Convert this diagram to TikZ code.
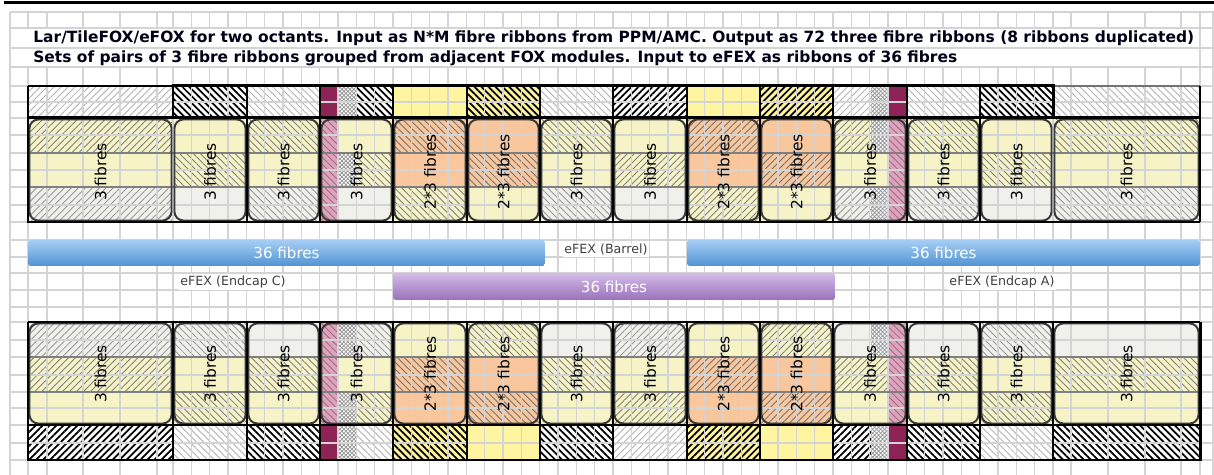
\documentclass[tikz,border=0pt]{standalone}
\usepackage{fontspec}
\setmainfont{DejaVu Sans}
\usetikzlibrary{patterns, patterns.meta}
\definecolor{cyel}{HTML}{F6F4C6}
\definecolor{cylw}{HTML}{FFF5A0}
\definecolor{corg}{HTML}{F8C79D}
\definecolor{cgry}{HTML}{F1F1EC}
\definecolor{cwine}{HTML}{8E2356}
\definecolor{cpink}{HTML}{D9A6BC}
\definecolor{cbluet}{HTML}{A6CEF5}
\definecolor{cblueb}{HTML}{5292D2}
\definecolor{cpurpt}{HTML}{D3BBE8}
\definecolor{cpurpb}{HTML}{9A72BB}
\tikzset{
  gridln/.style={draw=black!17, line width=0.8pt},
  hne/.style={postaction={pattern={Lines[angle=45,distance=2.8pt,line width=.5pt]}, pattern color=#1}},
  hnw/.style={postaction={pattern={Lines[angle=-45,distance=2.8pt,line width=.5pt]}, pattern color=#1}},
  kne/.style={postaction={pattern={Lines[angle=45,distance=2.8pt,line width=1pt]}, pattern color=black}},
  knw/.style={postaction={pattern={Lines[angle=-45,distance=2.8pt,line width=1pt]}, pattern color=black}},
  pW/.style={fill=white},
  pWne/.style={fill=white, hne=black!30},
  pWnw/.style={fill=white, hnw=black!30},
  pG/.style={fill=cgry},
  pGne/.style={fill=cgry, hne=black!40},
  pGnw/.style={fill=cgry, hnw=black!40},
  pY/.style={fill=cyel},
  pYne/.style={fill=cyel, hne=black!50},
  pYnw/.style={fill=cyel, hnw=black!50},
  pO/.style={fill=corg},
  pOne/.style={fill=corg, hne=black!55},
  pOnw/.style={fill=corg, hnw=black!55},
  pS/.style={fill=cylw},
  pSne/.style={fill=cylw, kne},
  pSnw/.style={fill=cylw, knw},
  pKne/.style={fill=white, kne},
  pKnw/.style={fill=white, knw},
  pChk/.style={fill=white, postaction={pattern={Hatch[angle=45,distance=1.6pt,line width=.45pt]}, pattern color=black!40}},
  pPink/.style={fill=cpink, hnw=cwine!70},
  bandsep/.style={draw=black!50, line width=1.4pt},
  modbox/.style={draw=black!78, line width=1.1pt, rounded corners=5pt},
  blkframe/.style={draw=black, line width=1.7pt},
  pairsep/.style={draw=black, line width=1.3pt},
  modsep/.style={draw=black, line width=0.7pt},
  ttl/.style={anchor=base west, inner sep=0pt, text=black!90!blue, font=\fontsize{8.8}{10}\selectfont\bfseries},
  fibtxt/.style={rotate=90, inner sep=0pt, font=\fontsize{8.8}{10}\selectfont},
  efexlbl/.style={fill=white, inner sep=1pt, text=black!75, font=\fontsize{7.2}{9}\selectfont},
  fibbar/.style={rounded corners=1.5pt, inner sep=0pt, text=white, font=\fontsize{8.6}{10}\selectfont, minimum height=0.52cm},
  bluebar/.style={fibbar, top color=cbluet, bottom color=cblueb},
  purplebar/.style={fibbar, top color=cpurpt, bottom color=cpurpb, minimum height=0.54cm},
}
\begin{document}
\begin{tikzpicture}[x=0.02cm, y=-0.02cm]
  \useasboundingbox (0,0) rectangle (1214,475);
  \draw[line width=1.7pt] (4,3) -- (1214,3);
  % top block: strip and three bands per module
  \foreach \xa/\xb/\s/\ba/\bb/\bc in {
    28/173/pWne/pYne/pY/pGne, 173/247/pKnw/pY/pYnw/pG, 247/320/pWnw/pYnw/pY/pGnw,
    320/393/pKnw/pY/pYnw/pG, 393/467/pS/pOnw/pO/pYnw, 467/540/pSnw/pO/pOnw/pY,
    540/613/pWnw/pYnw/pY/pGnw, 613/687/pKne/pY/pYne/pG, 687/760/pS/pOne/pO/pYne,
    760/833/pSne/pO/pOne/pY, 833/907/pWne/pYne/pY/pGne, 907/980/pWnw/pYnw/pY/pGnw,
    980/1053/pKnw/pY/pYnw/pG, 1053/1200/pWnw/pYnw/pY/pGnw}{
    \path[\s] (\xa,86) rectangle (\xb,118);
    \path[\ba] (\xa,118) rectangle (\xb,153);
    \path[\bb] (\xa,153) rectangle (\xb,187);
    \path[\bc] (\xa,187) rectangle (\xb,222);
  }
  % bottom block: three bands and strip per module
  \foreach \xa/\xb/\ba/\bb/\bc/\s in {
    28/173/pGne/pYne/pY/pKne, 173/247/pGnw/pY/pYnw/pWnw, 247/320/pG/pYnw/pY/pKnw,
    320/393/pGnw/pY/pYnw/pWnw, 393/467/pY/pOnw/pO/pSnw, 467/540/pYnw/pO/pOnw/pS,
    540/613/pG/pYnw/pY/pKnw, 613/687/pGne/pY/pYne/pWne, 687/760/pY/pOne/pO/pSne,
    760/833/pYne/pO/pOne/pS, 833/907/pG/pYne/pY/pKne, 907/980/pG/pYnw/pY/pKnw,
    980/1053/pGnw/pY/pYnw/pWnw, 1053/1200/pG/pYnw/pY/pKnw}{
    \path[\ba] (\xa,322) rectangle (\xb,357);
    \path[\bb] (\xa,357) rectangle (\xb,392);
    \path[\bc] (\xa,392) rectangle (\xb,425);
    \path[\s] (\xa,425) rectangle (\xb,460);
  }
  % duplicated ribbons
  \path[pChk] (338,86) rectangle (356,118);
  \path[pChk] (338,153) rectangle (356,187);
  \path[pChk] (871,86) rectangle (889,118);
  \path[pChk] (871,118) rectangle (889,153);
  \path[pChk] (871,187) rectangle (889,222);
  \path[pChk] (338,322) rectangle (356,357);
  \path[pChk] (338,392) rectangle (356,460);
  \path[pChk] (871,322) rectangle (889,357);
  \path[pChk] (871,425) rectangle (889,460);
  \fill[cwine] (320,86) rectangle (338,118);
  \fill[cwine] (889,86) rectangle (907,118);
  \fill[cwine] (320,425) rectangle (338,460);
  \fill[cwine] (889,425) rectangle (907,460);
  \path[pPink] (320,118) rectangle (338,222);
  \path[pPink] (889,118) rectangle (907,222);
  \path[pPink] (320,322) rectangle (338,425);
  \path[pPink] (889,322) rectangle (907,425);
  % sheet grid
  \foreach \y in {12,28,48,67,86,102,118,135,153,170,187,205,222,240,257,273,290,307,322,340,357,375,392,408,425,443,460}
    \draw[gridln] (10,\y) -- (1214,\y);
  \foreach \x in {10,28,47,83,120,157,1071,1108,1145,1181,1200,1213}
    \draw[gridln] (\x,12) -- (\x,475);
  \foreach \k in {0,...,48}
    \draw[gridln] ({173+\k*18.333},12) -- ({173+\k*18.333},475);
  \fill[white] (11,28.6) rectangle (1199.4,66.4);
  \draw[gridln] (10,48) -- (1200,48);
  \node[ttl] (title1) at (33,43) {Lar/TileFOX/eFOX for two octants. Input as N*M fibre ribbons from PPM/AMC. Output as 72 three fibre ribbons (8 ribbons duplicated)};
  \node[ttl] (title2) at (33,63) {Sets of pairs of 3 fibre ribbons grouped from adjacent FOX modules. Input to eFEX as ribbons of 36 fibres};
  % band lines and frames
  \foreach \y in {153,187,357,392}
    \draw[bandsep] (28,\y) -- (1200,\y);
  \foreach \xa/\xb/\lbl [count=\i] in {
    28/173/3 fibres, 173/247/3 fibres, 247/320/3 fibres, 320/393/3 fibres,
    393/467/2*3 fibres, 467/540/2*3 fibres, 540/613/3 fibres, 613/687/3 fibres,
    687/760/2*3 fibres, 760/833/2*3 fibres, 833/907/3 fibres, 907/980/3 fibres,
    980/1053/3 fibres, 1053/1200/3 fibres}{
    \draw[modbox] (\xa+1.5,119.5) rectangle (\xb-1.5,220.5);
    \draw[modbox] (\xa+1.5,323.5) rectangle (\xb-1.5,423.5);
    \node[fibtxt] (top\i) at ({(\xa+\xb)/2},172) {\lbl};
    \node[fibtxt] (bot\i) at ({(\xa+\xb)/2},374) {\lbl};
  }
  \foreach \x in {247,393,540,687,833,980} {
    \draw[modsep] (\x,86) -- (\x,222);
    \draw[modsep] (\x,322) -- (\x,460);
  }
  \foreach \x in {320,467,613,760,907} {
    \draw[pairsep] (\x,86) -- (\x,222);
    \draw[pairsep] (\x,322) -- (\x,460);
  }
  \draw[modsep] (28,86) -- (173,86);
  \draw[modsep, draw=black!55] (1053,86) -- (1200,86);
  \draw[modsep] (1200,86) -- (1200,222);
  \draw[blkframe] (28,86) -- (28,222) -- (1200,222);
  \draw[blkframe] (28,118) -- (1200,118);
  \draw[blkframe] (173,118) -- (173,86) -- (1053,86) -- (1053,118);
  \draw[modsep] (28,322) -- (173,322);
  \draw[modsep] (1053,322) -- (1200,322);
  \draw[modsep, line width=1pt] (28,425) -- (1200,425);
  \draw[blkframe] (173,322) -- (1053,322);
  \draw[blkframe] (28,322) -- (28,460) -- (1200,460) -- (1200,322);
  \draw[pairsep] (173,322) -- (173,460);
  \draw[pairsep] (1053,322) -- (1053,460);
  % eFEX ribbons of 36 fibres
  \node[bluebar, minimum width=10.34cm] (barC) at (286.5,253) {36 fibres};
  \node[bluebar, minimum width=10.26cm] (barA) at (943.5,253) {36 fibres};
  \node[purplebar, minimum width=8.84cm] (barB) at (614,286.5) {36 fibres};
  \node[efexlbl] (lblB) at (606,250) {eFEX (Barrel)};
  \node[efexlbl] (lblC) at (233,282) {eFEX (Endcap C)};
  \node[efexlbl] (lblA) at (1002,282) {eFEX (Endcap A)};
\end{tikzpicture}
\end{document}
